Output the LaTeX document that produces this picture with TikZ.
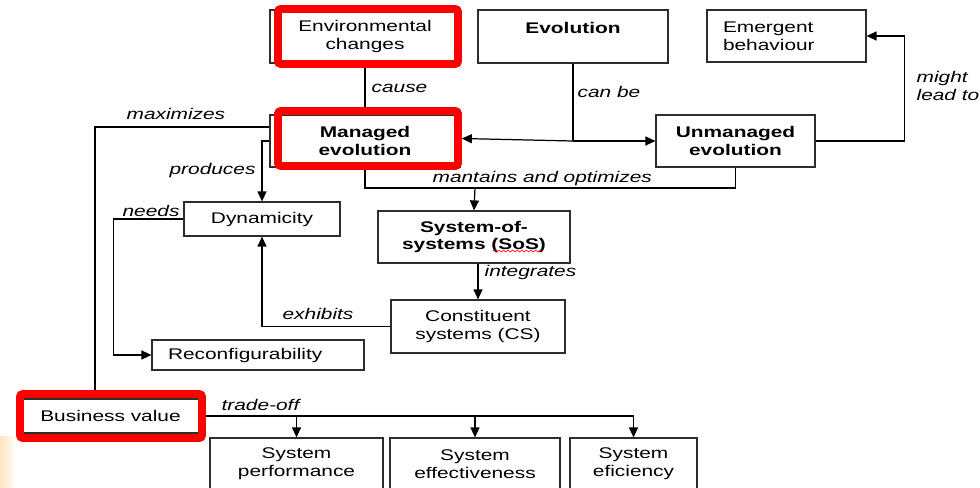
\documentclass[tikz,border=0pt]{standalone}
\usepackage{fontspec}
\setmainfont{Liberation Sans}[FakeStretch=1.35]
\usetikzlibrary{arrows.meta,calc,decorations.pathmorphing}
\definecolor{framegray}{RGB}{45,45,45}
\definecolor{alertred}{RGB}{255,0,0}
\definecolor{peach}{RGB}{252,228,190}
\begin{document}
\begin{tikzpicture}[x=0.02cm,y=-0.02cm,line width=0.7pt,
  font=\fontsize{8.8}{10.2}\selectfont,
  box/.style={draw=framegray,line width=0.7pt,fill=white,inner sep=0pt,align=center},
  leftbox/.style={box,align=left,inner xsep=0.32cm},
  redframe/.style={draw=alertred,line width=4.4pt,rounded corners=1.5pt,inner sep=0pt},
  lbl/.style={font=\fontsize{8.8}{10.2}\selectfont\itshape,anchor=west,inner sep=0pt,align=left},
  arr/.style={-{Triangle[length=0.2cm,width=0.18cm]}}]
\clip (0,0) rectangle (980,487);
\fill[white] (0,0) rectangle (980,487);
% faint tint at the lower left corner
\fill[left color=peach,right color=white] (0,436) rectangle (16,487);

% concept boxes
\node[box,minimum width=3.8cm,minimum height=1.06cm] (env) at (365,36.5) {Environmental\\changes};
\node[box,minimum width=3.8cm,minimum height=1.06cm] (evo) at (573,36.5) {\textbf{Evolution}\\\mbox{}};
\node[leftbox,text width=2.54cm,minimum height=1.04cm] (emer) at (786.5,36) {Emergent\\behaviour};
\node[box,minimum width=3.8cm,minimum height=1.04cm] (man) at (365,141) {\textbf{Managed}\\\textbf{evolution}};
\node[box,minimum width=3.18cm,minimum height=1.04cm] (unman) at (735.5,141) {\textbf{Unmanaged}\\\textbf{evolution}};
\node[box,minimum width=3.84cm,minimum height=1.04cm] (sos) at (474,237) {\textbf{System-of-}\\\textbf{systems (SoS)}};
\node[box,minimum width=3.48cm,minimum height=1.06cm] (cs) at (478,326.5) {Constituent\\systems (CS)};
\node[box,minimum width=3.12cm,minimum height=0.68cm] (dyn) at (262,219) {Dynamicity};
\node[leftbox,text width=3.6cm,minimum height=0.6cm] (reconf) at (258,355) {Reconfigurability};
\node[box,minimum width=3.54cm,minimum height=0.68cm] (bus) at (110.5,416) {Business value};
\node[box,minimum width=3.46cm,minimum height=1.04cm] (perf) at (296.5,464) {System\\performance};
\node[box,minimum width=3.4cm,minimum height=1.04cm] (eff) at (475,464) {System\\effectiveness};
\node[box,minimum width=2.54cm,minimum height=1.04cm] (effic) at (633.5,464) {System\\eficiency};

% wavy underline below the acronym
\draw[alertred,line width=0.35pt,decorate,decoration={snake,amplitude=0.55pt,segment length=2.6pt}] (493,251) -- (542,251);

% positions of the highlight frames (drawn over the connectors below)
\path (368,36.5) coordinate (envRc) (368,138.5) coordinate (manRc) (111,416) coordinate (busRc);
\node[redframe,draw=none,minimum width=3.6cm,minimum height=1.1cm] (envR) at (envRc) {};
\node[redframe,draw=none,minimum width=3.6cm,minimum height=1.1cm] (manR) at (manRc) {};
\node[redframe,draw=none,minimum width=3.64cm,minimum height=0.88cm] (busR) at (busRc) {};

% connectors
\draw (env.south) -- (man.north);
\coordinate (split) at (evo.south |- man.east);
\draw (evo.south) -- (split);
\draw[arr] (split) -- (manR.east);
\draw[arr] (split) -- (unman.west);
\draw[arr] (unman.east) -- ++(89,0) |- (emer.east);
\coordinate (mj) at (475,188);
\draw (man.south) |- (mj) -| (unman.south);
\draw[arr] (mj) -- (sos.north);
\draw[arr] (sos.south -| cs.north) -- (cs.north);
\draw[arr] (cs.west) -| (dyn.south);
\draw[arr] (man.west) -| (dyn.north);
\draw ($(man.west)+(0,-14)$) -| ($(bus.north)+(-15.5,0)$);
\draw[arr] (dyn.west) -- ++(-70,0) |- (reconf.west);
\draw[arr] (busR.east) -| (effic.north);
\draw[arr] (busR.east -| perf.north) -- (perf.north);
\draw[arr] (busR.east -| eff.north) -- (eff.north);

% highlight frames
\node[redframe,minimum width=3.6cm,minimum height=1.1cm] at (envRc) {};
\node[redframe,minimum width=3.6cm,minimum height=1.1cm] at (manRc) {};
\node[redframe,minimum width=3.64cm,minimum height=0.88cm] at (busRc) {};

% connector labels
\node[lbl] (lcause) at (371,88) {cause};
\node[lbl] (lcanbe) at (577,92) {can be};
\node[lbl] (lmight) at (916,86) {might\\lead to};
\node[lbl] (lmax) at (126,114) {maximizes};
\node[lbl] (lprod) at (169,170) {produces};
\node[lbl] (lmant) at (432,178) {mantains and optimizes};
\node[lbl] (lneeds) at (122,211) {needs};
\node[lbl] (lint) at (484,272) {integrates};
\node[lbl] (lexh) at (282,314) {exhibits};
\node[lbl] (ltrade) at (221,405) {trade-off};
\end{tikzpicture}
\end{document}
